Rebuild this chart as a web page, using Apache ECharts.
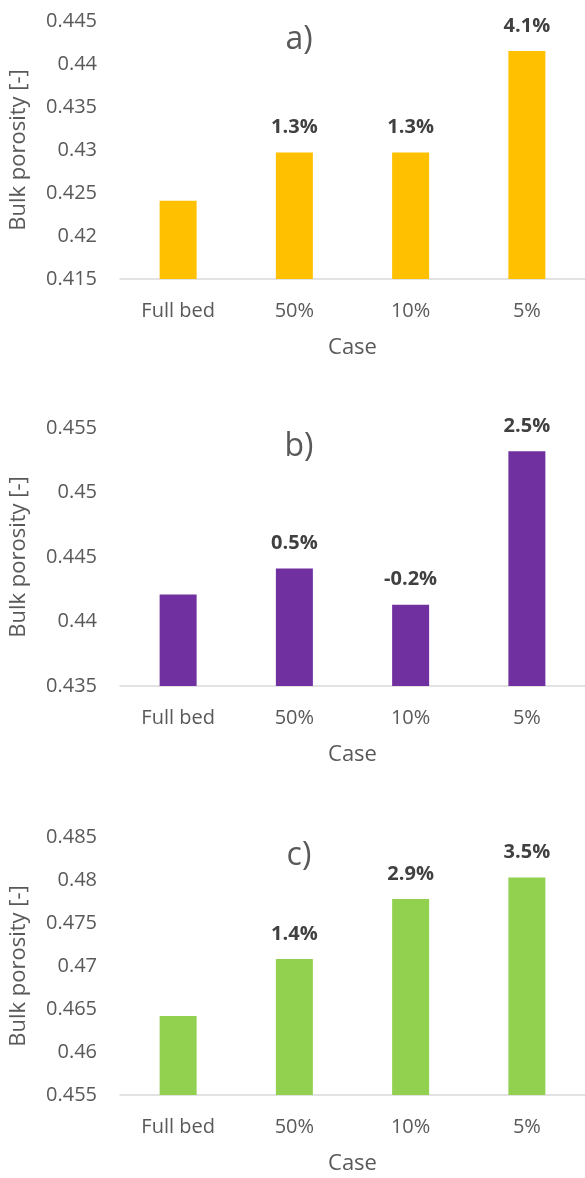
<!DOCTYPE html>
<html>
<head>
<meta charset="utf-8">
<script src="https://cdn.jsdelivr.net/npm/echarts@6/dist/echarts.min.js"></script>
<style>
  html, body { margin: 0; padding: 0; background: #fff; }
  #chart { width: 585px; height: 1178px; }
</style>
</head>
<body>
<div id="chart"></div>
<script>
const cases = ["Full bed", "50%", "10%", "5%"];

// bulk porosity per panel
const porosityA = [0.4241, 0.4297, 0.4297, 0.4415];
const porosityB = [0.4421, 0.4441, 0.4413, 0.4532];
const porosityC = [0.4642, 0.4708, 0.4778, 0.4803];

// change vs. full bed, shown above the bars
const changeA = ["", "1.3%", "1.3%", "4.1%"];
const changeB = ["", "0.5%", "-0.2%", "2.5%"];
const changeC = ["", "1.4%", "2.9%", "3.5%"];

// y-axis ranges [min, max, step]
const rangeA = [0.415, 0.445, 0.005];
const rangeB = [0.435, 0.455, 0.005];
const rangeC = [0.455, 0.485, 0.005];

const panelTitles = ["a)", "b)", "c)"];
const colors = ["#FFC000", "#7030A0", "#92D050"];
const panelTops = [21, 428, 837];

const font = "'Open Sans', sans-serif";
const grey = "#595959";

const panels = [
    { values: porosityA, labels: changeA, range: rangeA },
    { values: porosityB, labels: changeB, range: rangeB },
    { values: porosityC, labels: changeC, range: rangeC },
];

const chart = echarts.init(document.getElementById("chart"));

const option = {
    backgroundColor: "#fff",
    animation: false,
    textStyle: { fontFamily: font },
    title: panels.map((p, i) => ({
        text: panelTitles[i],
        left: 294,
        top: panelTops[i] - 2,
        textAlign: "center",
        textStyle: { fontFamily: font, fontSize: 32, fontWeight: "normal", color: grey },
    })),
    grid: panels.map((p, i) => ({
        left: 120,
        width: 470,
        top: panelTops[i],
        height: 258,
    })),
    xAxis: panels.map((p, i) => ({
        type: "category",
        gridIndex: i,
        data: cases,
        name: "Case",
        nameLocation: "middle",
        nameGap: 58,
        nameTextStyle: { fontFamily: font, fontSize: 22, color: grey },
        axisLine: { lineStyle: { color: "#D9D9D9", width: 1.5 } },
        axisTick: { show: false },
        axisLabel: { margin: 22, fontFamily: font, fontSize: 20, color: grey },
    })),
    yAxis: panels.map((p, i) => ({
        type: "value",
        gridIndex: i,
        min: p.range[0],
        max: p.range[1],
        interval: p.range[2],
        name: "Bulk porosity [-]",
        nameLocation: "middle",
        nameGap: 90,
        nameTextStyle: { fontFamily: font, fontSize: 22, color: grey },
        axisLine: { show: false },
        axisTick: { show: false },
        splitLine: { show: false },
        axisLabel: {
            margin: 23,
            fontFamily: font,
            fontSize: 20,
            color: grey,
            formatter: (v) => String(+v.toFixed(3)),
        },
    })),
    series: panels.map((p, i) => ({
        type: "bar",
        xAxisIndex: i,
        yAxisIndex: i,
        barWidth: 37,
        itemStyle: { color: colors[i] },
        label: {
            show: true,
            position: "top",
            distance: 15,
            fontFamily: font,
            fontSize: 20,
            fontWeight: "bold",
            color: "#404040",
            formatter: (params) => p.labels[params.dataIndex],
        },
        data: p.values,
    })),
};

chart.setOption(option);
</script>
</body>
</html>
